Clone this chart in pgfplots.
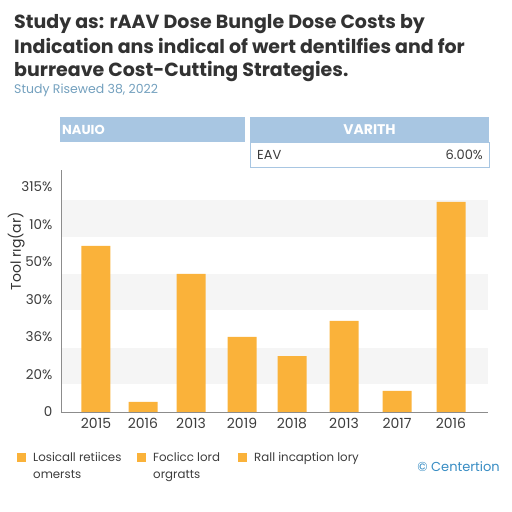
\documentclass[border=0pt]{standalone}
\usepackage{pgfplots}
\pgfplotsset{compat=1.18}
\usepackage{fontspec}
\setmainfont{Poppins}
\definecolor{barc}{RGB}{250,178,58}
\definecolor{hdr}{RGB}{168,198,226}
\definecolor{band}{RGB}{245,245,245}
\definecolor{ttl}{RGB}{50,50,50}
\definecolor{sub}{RGB}{115,160,190}
\definecolor{brand}{RGB}{55,140,195}
\definecolor{lbl}{RGB}{60,60,60}
\begin{document}
\begin{tikzpicture}[x=1pt,y=1pt]
\path[use as bounding box] (0,0) rectangle (512,512);
% title
\node[anchor=base west, font=\fontsize{19}{24}\selectfont\bfseries, text=ttl, inner sep=0] at (14,483) {Study as: rAAV Dose Bungle Dose Costs by};
\node[anchor=base west, font=\fontsize{19}{24}\selectfont\bfseries, text=ttl, inner sep=0] at (14,458) {Indication ans indical of wert dentilfies and for};
\node[anchor=base west, font=\fontsize{19}{24}\selectfont\bfseries, text=ttl, inner sep=0] at (14,435) {burreave Cost-Cutting Strategies.};
\node[anchor=base west, font=\fontsize{12.5}{14}\selectfont, text=sub, inner sep=0] at (14,418) {Study Risewed 38, 2022};
% table
\fill[hdr] (60,395) rectangle (245,370);
\node[anchor=west, font=\fontsize{13}{15}\selectfont\bfseries, text=white, inner sep=0] at (62,382.5) {NAUIO};
\fill[hdr] (250,395) rectangle (489,370);
\node[font=\fontsize{14}{16}\selectfont\bfseries, text=white] at (369.5,382.5) {VARITH};
\draw[hdr, fill=white] (250,370) rectangle (489,345);
\node[anchor=west, font=\fontsize{13}{15}\selectfont, text=lbl, inner sep=0] at (257,357.5) {EAV};
\node[anchor=east, font=\fontsize{13}{15}\selectfont, text=lbl, inner sep=0] at (483,357.5) {6.00\%};
\begin{axis}[
  at={(61pt,100pt)}, anchor=south west,
  width=427pt, height=242pt, scale only axis,
  xmin=61, xmax=488, ymin=0, ymax=6.45,
  axis x line=bottom, axis y line=left,
  axis line style={-, draw=black!45, line width=0.6pt},
  xtick={96,143,191,242,292,344,397,451},
  xticklabels={2015,2016,2013,2019,2018,2013,2017,2016},
  ytick={0,1,2,3,4,5,6},
  yticklabels={0,20\%,36\%,30\%,50\%,10\%,315\%},
  major tick length=0pt,
  tick label style={font=\fontsize{13.5}{15}\selectfont, text=lbl},
  /pgf/number format/assume math mode=true,
  xticklabel style={yshift=-3pt, font=\fontsize{14}{16}\selectfont},
  yticklabel style={xshift=-5pt},
  ylabel={Tool rıg(ar)},
  ylabel style={font=\fontsize{14}{16}\selectfont, text=ttl, at={(axis description cs:-0.105,0.665)}, anchor=center, rotate=0},
  axis on top,
]
\addplot[fill=band, draw=none, forget plot] coordinates {(61,0.75)(488,0.75)(488,1.71)(61,1.71)} -- cycle;
\addplot[fill=band, draw=none, forget plot] coordinates {(61,2.72)(488,2.72)(488,3.68)(61,3.68)} -- cycle;
\addplot[fill=band, draw=none, forget plot] coordinates {(61,4.67)(488,4.67)(488,5.65)(61,5.65)} -- cycle;
\addplot[ybar, bar width=29pt, fill=barc, draw=none] coordinates {
 (96,4.43) (143,0.27) (191,3.68) (242,2.0) (292,1.49) (344,2.43) (397,0.56) (451,5.6)};
\end{axis}
% legend
\fill[barc] (17,50) rectangle (26,59);
\node[anchor=base west, font=\fontsize{11.8}{14}\selectfont, text=lbl, inner sep=0] at (33,50) {Losicall retiices};
\node[anchor=base west, font=\fontsize{11.8}{14}\selectfont, text=lbl, inner sep=0] at (33,33.5) {omersts};
\fill[barc] (137,50) rectangle (146,59);
\node[anchor=base west, font=\fontsize{11.8}{14}\selectfont, text=lbl, inner sep=0] at (153,50) {Foclicc lord};
\node[anchor=base west, font=\fontsize{11.8}{14}\selectfont, text=lbl, inner sep=0] at (153,33.5) {orgratts};
\fill[barc] (238,50) rectangle (247,59);
\node[anchor=base west, font=\fontsize{11.8}{14}\selectfont, text=lbl, inner sep=0] at (254,50) {Rall incaption lory};
\node[anchor=base east, font=\fontsize{13}{15}\selectfont, text=brand, inner sep=0] at (500,40) {© Centertion};
\end{tikzpicture}
\end{document}
